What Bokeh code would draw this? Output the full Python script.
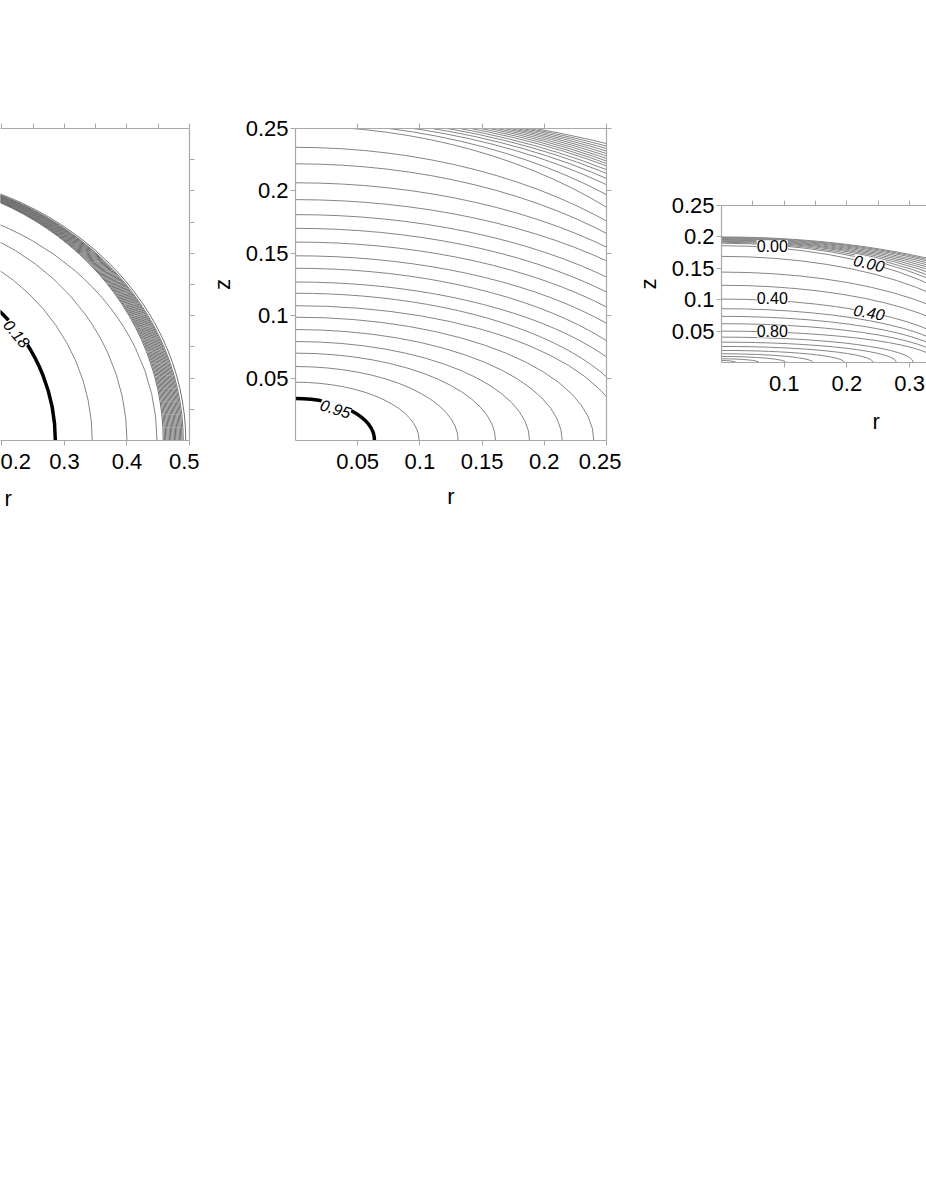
import numpy as np
from bokeh.plotting import figure
from bokeh.models import (Range1d, LinearAxis, FixedTicker, CustomJSTickFormatter,
                          ColumnDataSource, Spacer, CustomLabelingPolicy, Title)
from bokeh.layouts import row, column
from bokeh.embed import file_html
from bokeh.resources import INLINE
from bokeh.core.properties import value

FONT = "Liberation Sans"
LINE_GRAY = "#858585"
BAND_GRAY = "#707070"
AXIS_GRAY = "#a8a8a8"

# ---------------- data ----------------
# Panel 1: contours, semi-axes (r-intercept, z-intercept)
P1_BOLD_A = [0.2855]
P1_BOLD_B = [0.2855]
P1_THIN_A = [0.3445, 0.400, 0.448]
P1_THIN_B = [0.332, 0.366, 0.385]
P1_BAND_A = [0.458, 0.460, 0.462, 0.464, 0.466, 0.468, 0.470, 0.472, 0.474,
             0.476, 0.478, 0.480, 0.482, 0.484, 0.486, 0.488, 0.490, 0.494]
P1_BAND_B = [0.4224, 0.4228, 0.4232, 0.4236, 0.4240, 0.4245, 0.4250, 0.4255, 0.4260,
             0.4265, 0.4270, 0.4275, 0.4280, 0.4285, 0.4290, 0.4294, 0.4298, 0.4310]
P1_LABEL = ["0.18"]
P1_LABEL_R = [0.224]
P1_LABEL_Z = [0.1715]
P1_LABEL_ANGLE = [-50]

# Panel 2: contour end points
P2_BOLD_ZL = [0.0337]          # z where the 0.95 line meets r = 0
P2_BOLD_RB = [0.0635]          # r where it meets z = 0
P2_BOT_ZL = [0.0467, 0.0593, 0.0700, 0.0793, 0.0889, 0.0988]
P2_BOT_RB = [0.0994, 0.1308, 0.1608, 0.1881, 0.2144, 0.2398]
P2_SIDE_ZL = [0.108, 0.118, 0.127, 0.138, 0.148, 0.159, 0.170, 0.181, 0.193, 0.2065, 0.2217, 0.235]
P2_SIDE_ZR = [0.035, 0.051, 0.067, 0.080, 0.094, 0.107, 0.119, 0.131, 0.144, 0.155, 0.166, 0.176]
P2_TOP_RT = [0.047, 0.075, 0.095, 0.110, 0.122, 0.132, 0.141, 0.149, 0.156, 0.162,
             0.168, 0.173, 0.178, 0.183, 0.188, 0.193]
P2_TOP_ZR = [0.187, 0.197, 0.205, 0.210, 0.214, 0.217, 0.220, 0.222, 0.224, 0.226,
             0.228, 0.230, 0.232, 0.234, 0.236, 0.238]
P2_LABEL = ["0.95"]
P2_LABEL_R = [0.0322]
P2_LABEL_Z = [0.0256]
P2_LABEL_ANGLE = [-17]

# Panel 3: levels with z-intercept (b) and r-intercept (a)
P3_LEVELS = [0.0, 0.1, 0.2, 0.3, 0.4, 0.5, 0.6, 0.7, 0.8, 0.9, 1.0, 1.1, 1.2, 1.3, 1.4, 1.5, 1.6]
P3_B = [0.186, 0.169, 0.144, 0.123, 0.101, 0.0857, 0.0735, 0.0618, 0.050, 0.0404,
        0.0324, 0.0256, 0.0192, 0.0139, 0.0096, 0.0059, 0.0032]
P3_A = [0.447, 0.440, 0.430, 0.410, 0.386, 0.375, 0.365, 0.355, 0.345, 0.306,
        0.279, 0.242, 0.196, 0.146, 0.103, 0.060, 0.023]
P3_FAN_B = [0.190, 0.1915, 0.193, 0.194, 0.195, 0.196, 0.197, 0.198, 0.199, 0.200]
P3_FAN_A = [0.465, 0.480, 0.495, 0.510, 0.525, 0.540, 0.555, 0.570, 0.580, 0.590]
P3_LABEL_UP = ["0.00", "0.40", "0.80"]
P3_LABEL_UP_R = [0.081, 0.081, 0.081]
P3_LABEL_UP_Z = [0.185, 0.102, 0.0495]
P3_LABEL_ROT = ["0.00", "0.40"]
P3_LABEL_ROT_R = [0.2355, 0.2355]
P3_LABEL_ROT_Z = [0.158, 0.080]
P3_LABEL_ROT_ANGLE = [-13, -10]

FMT = CustomJSTickFormatter(code="return String(parseFloat(tick.toFixed(3)));")
NO_LABELS = CustomLabelingPolicy(code="return;")
R_EDGE = 0.25


def make_fig(fw, fh, xr, yr, ml, mr, mt, mb):
    p = figure(frame_width=fw, frame_height=fh, x_range=Range1d(*xr), y_range=Range1d(*yr),
               output_backend="svg", toolbar_location=None,
               x_axis_location=None, y_axis_location=None,
               min_border_left=ml, min_border_right=mr, min_border_top=mt, min_border_bottom=mb,
               outline_line_color=None, background_fill_color="white", border_fill_color="white")
    p.grid.visible = False
    return p


def add_axis(p, side, ticks, labels=True, standoff=4, axis_label=None, label_standoff=12):
    ax = LinearAxis(ticker=FixedTicker(ticks=ticks, minor_ticks=[]), formatter=FMT)
    ax.axis_line_color = AXIS_GRAY
    ax.axis_line_width = 1.2
    ax.major_tick_line_color = AXIS_GRAY
    ax.major_tick_line_width = 1
    ax.major_tick_out = 5
    ax.major_tick_in = 0
    ax.minor_tick_line_color = None
    ax.major_label_text_font = FONT
    ax.major_label_text_font_size = "22px"
    ax.major_label_text_color = "black"
    ax.major_label_standoff = standoff
    if not labels:
        ax.major_label_policy = NO_LABELS
        ax.major_label_text_font_size = "0px"
        ax.major_label_standoff = 0
    if axis_label:
        ax.axis_label = axis_label
        ax.axis_label_text_font = FONT
        ax.axis_label_text_font_size = "22px"
        ax.axis_label_text_font_style = "normal"
        ax.axis_label_text_color = "black"
        ax.axis_label_standoff = label_standoff
    p.add_layout(ax, side)
    return ax


def side_title(p, text, offset, pad_top):
    t = Title(text=text, align="left", offset=offset,
              text_font=FONT, text_font_size="22px", text_font_style="normal",
              text_color="black",
              padding=dict(left=0, right=0, top=pad_top, bottom=0))
    p.add_layout(t, "below")


def ellipses(p, a, b, color, width):
    a = list(a)
    b = list(b)
    src = ColumnDataSource(dict(x=[0.0] * len(a), y=[0.0] * len(a),
                                w=[2 * v for v in a], h=[2 * v for v in b]))
    p.ellipse(x="x", y="y", width="w", height="h", source=src, fill_color=None,
              line_color=color, line_width=width)


def contour_labels(p, r, z, txt, angle, italic):
    src = ColumnDataSource(dict(x=r, y=z, t=txt, a=angle))
    p.text(x="x", y="y", text="t", angle="a", angle_units="deg", source=src,
           text_font=value(FONT), text_font_size="16px",
           text_font_style="italic" if italic else "normal",
           text_align="center", text_baseline="middle", text_color="black",
           background_fill_color="white")


# ---------------- panel 1 ----------------
p1 = make_fig(189, 312, (0.1978, 0.5), (0.0, 0.5), 0, 10, 128, 70)
ellipses(p1, P1_THIN_A, P1_THIN_B, LINE_GRAY, 1)
ellipses(p1, P1_BAND_A, P1_BAND_B, BAND_GRAY, 1)
ellipses(p1, P1_BOLD_A, P1_BOLD_B, "black", 3.5)
contour_labels(p1, P1_LABEL_R, P1_LABEL_Z, P1_LABEL, P1_LABEL_ANGLE, True)
add_axis(p1, "below", [0.2, 0.3, 0.4, 0.5], standoff=8)
add_axis(p1, "above", [0.2, 0.25, 0.3, 0.35, 0.4, 0.45, 0.5], labels=False)
add_axis(p1, "right", [0.05, 0.1, 0.15, 0.2, 0.25, 0.3, 0.35, 0.4, 0.45], labels=False)
side_title(p1, "r", 4, 7)

# ---------------- panel 2 ----------------
p2 = make_fig(311, 312, (0.0, 0.25), (0.0, 0.25), 96, 15, 128, 70)
# lines from the r = 0 edge to the bottom edge
ellipses(p2, P2_BOT_RB, P2_BOT_ZL, LINE_GRAY, 1)
# lines from the r = 0 edge to the right edge: ellipse through both end points
zl = np.array(P2_SIDE_ZL)
zr = np.array(P2_SIDE_ZR)
side_a = R_EDGE / np.sqrt(1 - (zr / zl) ** 2)
ellipses(p2, side_a, zl, LINE_GRAY, 1)
# lines from the top edge to the right edge
rt = np.array(P2_TOP_RT)
zr2 = np.array(P2_TOP_ZR)
det = rt ** 2 * zr2 ** 2 - R_EDGE ** 4
u = (zr2 ** 2 - R_EDGE ** 2) / det
v = (rt ** 2 - R_EDGE ** 2) / det
ellipses(p2, 1 / np.sqrt(u), 1 / np.sqrt(v), LINE_GRAY, 1)
ellipses(p2, P2_BOLD_RB, P2_BOLD_ZL, "black", 3.5)
contour_labels(p2, P2_LABEL_R, P2_LABEL_Z, P2_LABEL, P2_LABEL_ANGLE, True)
T2 = [0.05, 0.1, 0.15, 0.2, 0.25]
add_axis(p2, "below", T2, standoff=8, axis_label="r", label_standoff=12)
add_axis(p2, "left", T2, standoff=2, axis_label="z", label_standoff=8)
add_axis(p2, "above", T2, labels=False)
add_axis(p2, "right", T2, labels=False)

# ---------------- panel 3 ----------------
p3 = make_fig(205, 157, (0.0, 0.327), (0.0, 0.25), 100, 0, 128, 70)
ellipses(p3, P3_A, P3_B, LINE_GRAY, 1)
ellipses(p3, P3_FAN_A, P3_FAN_B, LINE_GRAY, 1)
contour_labels(p3, P3_LABEL_UP_R, P3_LABEL_UP_Z, P3_LABEL_UP, [0, 0, 0], False)
contour_labels(p3, P3_LABEL_ROT_R, P3_LABEL_ROT_Z, P3_LABEL_ROT, P3_LABEL_ROT_ANGLE, True)
add_axis(p3, "below", [0.1, 0.2, 0.3], standoff=8)
add_axis(p3, "left", T2, standoff=2, axis_label="z", label_standoff=8)
add_axis(p3, "above", [0.05, 0.1, 0.15, 0.2, 0.25, 0.3], labels=False)
side_title(p3, "r", 151, 8)

layout = row(p1, p2, column(Spacer(width=305, height=77), p3), spacing=0)
open("out.html", "w").write(file_html(layout, INLINE))
